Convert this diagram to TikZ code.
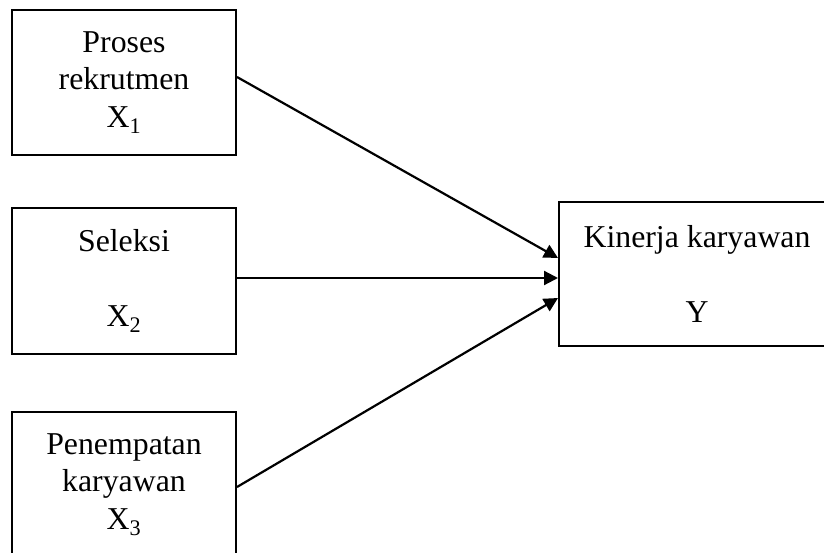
\documentclass[tikz,border=0pt]{standalone}
\usepackage{fontspec}
\setmainfont{Liberation Serif}
\usetikzlibrary{arrows.meta}
\tikzset{varbox/.style={draw, line width=2pt, rectangle, align=center,
    minimum width=224pt, minimum height=145pt, inner sep=0pt,
    font=\fontsize{31.8}{37.5}\selectfont},
    link/.style={line width=2.2pt, -{Triangle[length=14pt,width=14pt]}},
    }

\begin{document}
\begin{tikzpicture}[x=1pt,y=-1pt]
\useasboundingbox (0,0) rectangle (824,553);
\node[varbox] (rekrut) at (124,82.5) {Proses\\rekrutmen\\X\textsubscript{1}};
\node[varbox] (seleksi) at (124,281) {Seleksi\\[37.5pt]X\textsubscript{2}};
\node[varbox] (tempat) at (124,484.5) {Penempatan\\karyawan\\X\textsubscript{3}};% cut at the bottom
\node[varbox, minimum width=276pt, minimum height=144pt] (kinerja) at (697,274)
    {Kinerja karyawan\\[37.5pt]Y};% cut at the right
\draw[link] ([yshift=5.5pt]rekrut.east) -- ([yshift=16pt]kinerja.west);
\draw[link] ([yshift=3pt]seleksi.east) -- ([yshift=-4pt]kinerja.west);
\draw[link] ([yshift=-2.5pt]tempat.east) -- ([yshift=-24pt]kinerja.west);
\end{tikzpicture}
\end{document}
